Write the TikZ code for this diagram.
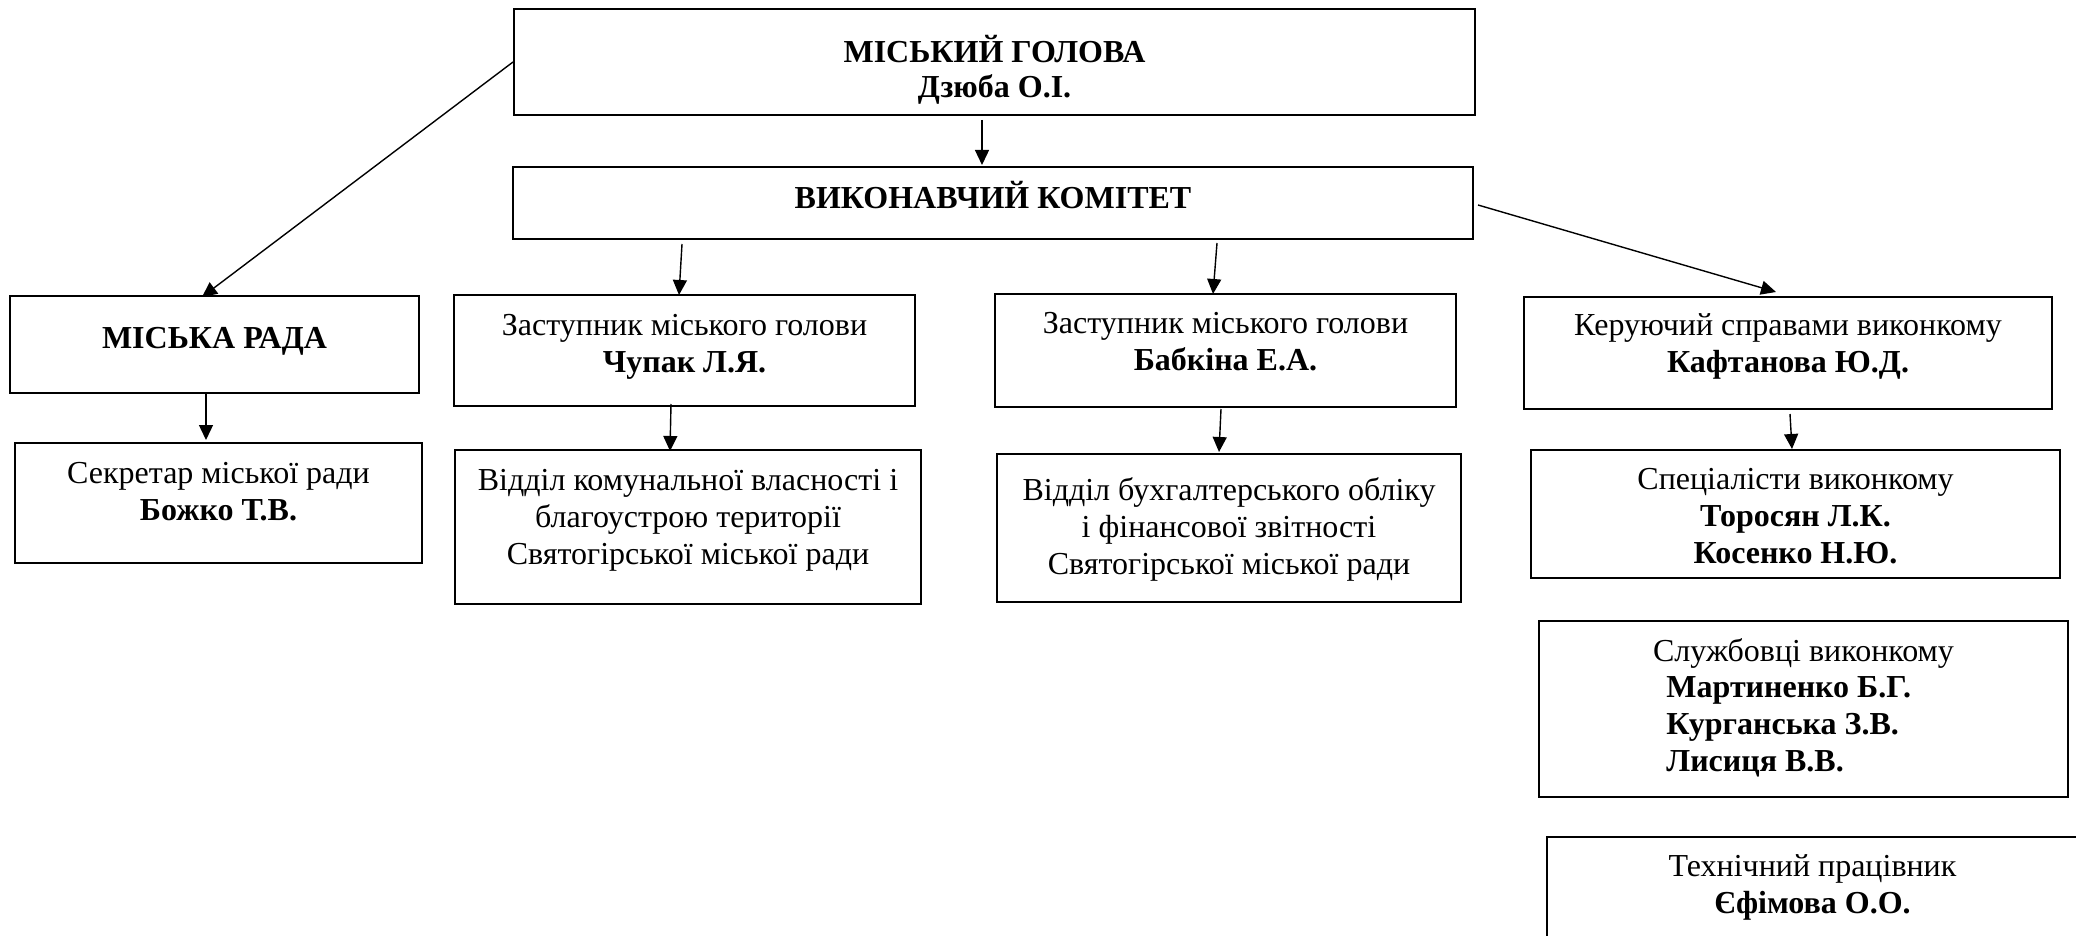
\documentclass[tikz,border=0pt]{standalone}
\usepackage{fontspec}
\setmainfont{Liberation Serif}
\usetikzlibrary{arrows.meta,calc}
\newcommand{\ml}[1]{\begin{tabular}[t]{@{}c@{}}#1\end{tabular}}
\newcommand{\mll}[1]{\begin{tabular}[t]{@{}l@{}}#1\end{tabular}}
\begin{document}
\begin{tikzpicture}[x=0.5pt,y=-0.5pt,
  box/.style 2 args={draw, line width=1pt, inner sep=0pt, minimum width=#1*0.5pt, minimum height=#2*0.5pt},
  txt/.style={inner sep=0pt, anchor=base, font=\fontsize{16pt}{18.5pt}\selectfont},
  arr/.style={line width=0.7pt, -{Triangle[length=7.5pt,width=7pt]}}]
\useasboundingbox (0,0) rectangle (2076,936);
\clip (0,0) rectangle (2076,936);
% boxes
\node[box={961}{106}] (mayor) at (994.5,62) {};
\node[box={960}{72}] (vk) at (993,203) {};
\node[box={409}{97}] (rada) at (214.5,344.5) {};
\node[box={461}{111}] (chupak) at (684.5,350.5) {};
\node[box={461}{113}] (babkina) at (1225.5,350.5) {};
\node[box={528}{112}] (keruy) at (1788,353) {};
\node[box={407}{120}] (sekretar) at (218.5,503) {};
\node[box={466}{154}] (komun) at (688,527) {};
\node[box={464}{148}] (bukh) at (1229,528) {};
\node[box={529}{128}] (spec) at (1795.5,514) {};
\node[box={529}{176}] (sluzh) at (1803.5,709) {};
\node[box={531}{153}] (tekh) at (1812.5,913.5) {};
% texts
\node[txt] (mayor-t) at (994.5,63) {\ml{\textbf{МІСЬКИЙ ГОЛОВА}\\[-1pt]\textbf{Дзюба О.І.}}};
\node[txt] (vk-t) at (993,209) {\textbf{ВИКОНАВЧИЙ КОМІТЕТ}};
\node[txt] (rada-t) at (214.5,348) {\textbf{МІСЬКА РАДА}};
\node[txt] (chupak-t) at (684.5,335) {\ml{Заступник міського голови\\\textbf{Чупак Л.Я.}}};
\node[txt] (babkina-t) at (1225.5,333) {\ml{Заступник міського голови\\\textbf{Бабкіна Е.А.}}};
\node[txt] (keruy-t) at (1788,335) {\ml{Керуючий справами виконкому\\\textbf{Кафтанова Ю.Д.}}};
\node[txt] (sekretar-t) at (218.5,483) {\ml{Секретар міської ради\\\textbf{Божко Т.В.}}};
\node[txt] (komun-t) at (688,490) {\ml{Відділ комунальної власності і\\благоустрою території\\Святогірської міської ради}};
\node[txt] (bukh-t) at (1229,500) {\ml{Відділ бухгалтерського обліку\\і фінансової звітності\\Святогірської міської ради}};
\node[txt] (spec-t) at (1795.5,489) {\ml{Спеціалісти виконкому\\\textbf{Торосян Л.К.}\\\textbf{Косенко Н.Ю.}}};
\node[txt] (sluzh-t) at (1803.5,661) {Службовці виконкому};
\node[txt, anchor=base west] (sluzh-n) at (1666,697) {\mll{\textbf{Мартиненко Б.Г.}\\\textbf{Курганська З.В.}\\\textbf{Лисиця В.В.}}};
\node[txt] (tekh-t) at (1812.5,876) {\ml{Технічний працівник\\\textbf{Єфімова О.О.}}};
% arrows
\draw[arr] (mayor.west) -- ($(rada.north)+(-12.5,2)$);
\draw[arr] ($(mayor.south)+(-12.5,4)$) -- ($(vk.north)+(-11,-1)$);
\draw[arr] ($(vk.south)+(-311,4)$) -- ($(chupak.north)+(-5.5,1)$);
\draw[arr] ($(vk.south)+(224,3)$) -- ($(babkina.north)+(-12.5,1)$);
\draw[arr] ($(vk.east)+(4,2)$) -- ($(keruy.north)+(-12,-4)$);
\draw[arr] ($(rada.south)+(-8.5,0)$) -- ($(sekretar.north)+(-12.5,-2)$);
\draw[arr] ($(chupak.south)+(-13.5,-3)$) -- ($(komun.north)+(-18,2)$);
\draw[arr] ($(babkina.south)+(-4.5,1)$) -- ($(bukh.north)+(-10,-1)$);
\draw[arr] ($(keruy.south)+(2,4)$) -- ($(spec.north)+(-3.5,0)$);
\end{tikzpicture}
\end{document}
